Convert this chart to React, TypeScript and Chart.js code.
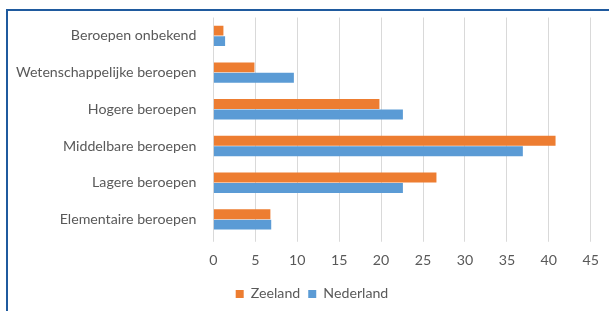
import React, { useEffect, useRef } from "react";
import { Chart, registerables } from "chart.js";

Chart.register(...registerables);

const categories = [
  "Beroepen onbekend",
  "Wetenschappelijke beroepen",
  "Hogere beroepen",
  "Middelbare beroepen",
  "Lagere beroepen",
  "Elementaire beroepen",
];
const zeeland = [1.2, 4.9, 19.8, 40.8, 26.6, 6.8];
const nederland = [1.4, 9.6, 22.6, 36.9, 22.6, 6.9];
const xTicksMax = 45;
const xStep = 5;

const legendShift = {
  id: "legendShift",
  afterLayout(chart: any) {
    if (chart.legend) {
      chart.legend.left += 12;
      chart.legend.right += 12;
    }
  },
};

export default function App() {
  const ref = useRef<HTMLCanvasElement>(null);
  useEffect(() => {
    const ctx = ref.current!;
    const font = { family: "Lato", size: 14.2 };
    const chart = new Chart(ctx, {
      type: "bar",
      data: {
        labels: categories,
        datasets: [
          { label: "Zeeland", data: zeeland, backgroundColor: "#ed7d31", borderWidth: 0 },
          { label: "Nederland", data: nederland, backgroundColor: "#5b9bd5", borderWidth: 0 },
        ],
      },
      options: {
        indexAxis: "y",
        animation: false,
        responsive: false,
        maintainAspectRatio: false,
        layout: { padding: { left: 7, right: 16, top: 3, bottom: 0 } },
        datasets: { bar: { categoryPercentage: 0.57, barPercentage: 0.95 } },
        scales: {
          x: {
            min: 0,
            max: xTicksMax,
            ticks: { stepSize: xStep, color: "#595959", font, padding: 10 },
            grid: { color: "#d9d9d9", drawTicks: true, tickLength: 4 },
            border: { display: false },
          },
          y: {
            ticks: { color: "#595959", font, padding: 9 },
            grid: { display: false },
            border: { display: false },
          },
        },
        plugins: {
          legend: {
            position: "bottom",
            labels: {
              color: "#595959",
              font,
              boxWidth: 8,
              boxHeight: 8,
              padding: 8,
            },
          },
          tooltip: { enabled: false },
        },
      },
      plugins: [legendShift],
    });
    return () => chart.destroy();
  }, []);
  return (
    <div style={{ position: "fixed", left: 0, top: 0, width: 609, height: 311, background: "#fff", overflow: "hidden" }}>
      <canvas ref={ref} width={609} height={311} style={{ position: "absolute", left: 0, top: 0 }} />
      <div
        style={{
          position: "absolute",
          left: 6,
          top: 9,
          width: 700,
          height: 400,
          borderTop: "2px solid #1f5a9e",
          borderLeft: "2px solid #1f5a9e",
          pointerEvents: "none",
        }}
      />
    </div>
  );
}
